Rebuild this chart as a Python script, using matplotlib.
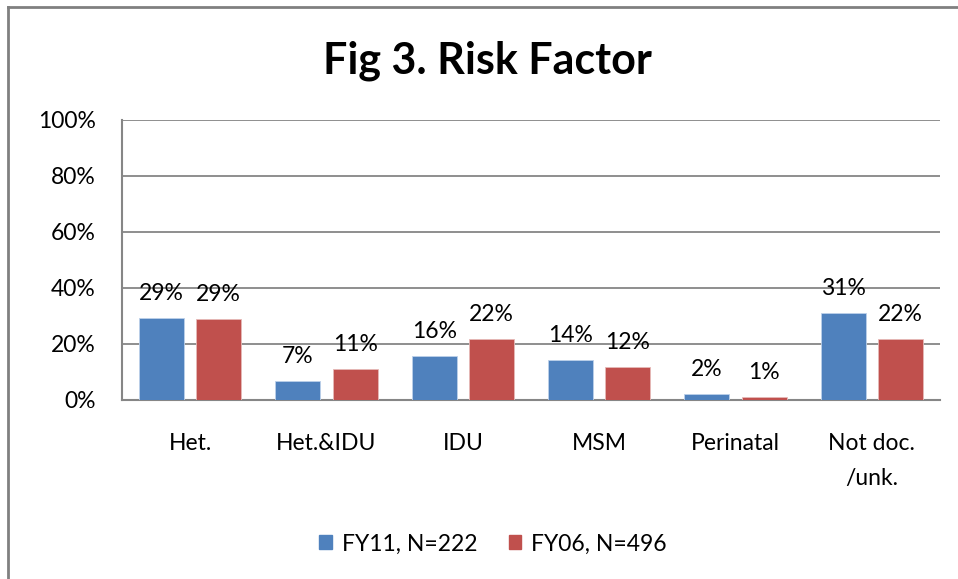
import numpy as np
import matplotlib.pyplot as plt
from matplotlib.lines import Line2D

plt.rcParams['font.family'] = ['Lato', 'DejaVu Sans']

categories = ["Het.", "Het.&IDU", "IDU", "MSM", "Perinatal", "Not doc.\n/unk."]
fy11 = [29.3, 6.8, 15.7, 14.3, 2.1, 31.0]
fy06 = [29.0, 11.0, 21.9, 11.8, 1.0, 21.9]
fy11_labels = ["29%", "7%", "16%", "14%", "2%", "31%"]
fy06_labels = ["29%", "11%", "22%", "12%", "1%", "22%"]
series_names = ["FY11, N=222", "FY06, N=496"]

blue = "#4f81bd"
red = "#c0504d"
grid_c = "#868686"

fig = plt.figure(figsize=(9.58, 5.79), dpi=100)
ax = fig.add_axes([122 / 958, 1 - 400 / 579, 818 / 958, 280 / 579])

x = np.arange(len(categories))
w = 0.33
gap = 0.09
b1 = ax.bar(x - (w + gap) / 2, fy11, w, color=blue, edgecolor="#bcd0ea", linewidth=0.6, zorder=3)
b2 = ax.bar(x + (w + gap) / 2, fy06, w, color=red, edgecolor="#e6b9b8", linewidth=0.6, zorder=3)

for bars, labs in ((b1, fy11_labels), (b2, fy06_labels)):
    for rect, lab in zip(bars, labs):
        ax.text(rect.get_x() + rect.get_width() / 2, rect.get_height() + 5.0, lab,
                ha="center", va="bottom", fontsize=16.5, color="#000000", zorder=4)

ax.set_xlim(-0.5, len(categories) - 0.5)
ax.set_ylim(0, 100)
ax.set_yticks([0, 20, 40, 60, 80, 100])
ax.set_yticklabels(["0%", "20%", "40%", "60%", "80%", "100%"])
ax.set_xticks(x)
ax.set_xticklabels(categories, linespacing=1.85, va="top")
ax.tick_params(axis="y", length=0, labelsize=16.5, pad=19)
ax.tick_params(axis="x", length=0, labelsize=16.5, pad=23.5)
ax.yaxis.grid(True, color=grid_c, linewidth=1.3, zorder=0)
ax.set_axisbelow(True)
for s in ("top", "right"):
    ax.spines[s].set_visible(False)
for s in ("left", "bottom"):
    ax.spines[s].set_color(grid_c)
    ax.spines[s].set_linewidth(1.5)

fig.text(487 / 958, 1 - 61 / 579, "Fig 3. Risk Factor", ha="center", va="center",
         fontsize=31, fontweight="bold")

handles = [plt.Rectangle((0, 0), 1, 1, color=blue), plt.Rectangle((0, 0), 1, 1, color=red)]
fig.legend(handles, series_names, loc="center", bbox_to_anchor=(493 / 958, 1 - 544 / 579),
           ncol=2, frameon=False, fontsize=16.5, handlelength=0.55, handleheight=0.55,
           handletextpad=0.45, columnspacing=1.36)

# outer chart border (top and left only visible)
fig.add_artist(Line2D([8 / 958, 8 / 958], [0, 1 - 7 / 579], transform=fig.transFigure,
                      color="#808080", linewidth=2))
fig.add_artist(Line2D([8 / 958, 1], [1 - 7 / 579, 1 - 7 / 579], transform=fig.transFigure,
                      color="#808080", linewidth=2))

fig.savefig("out.png", dpi=100)
